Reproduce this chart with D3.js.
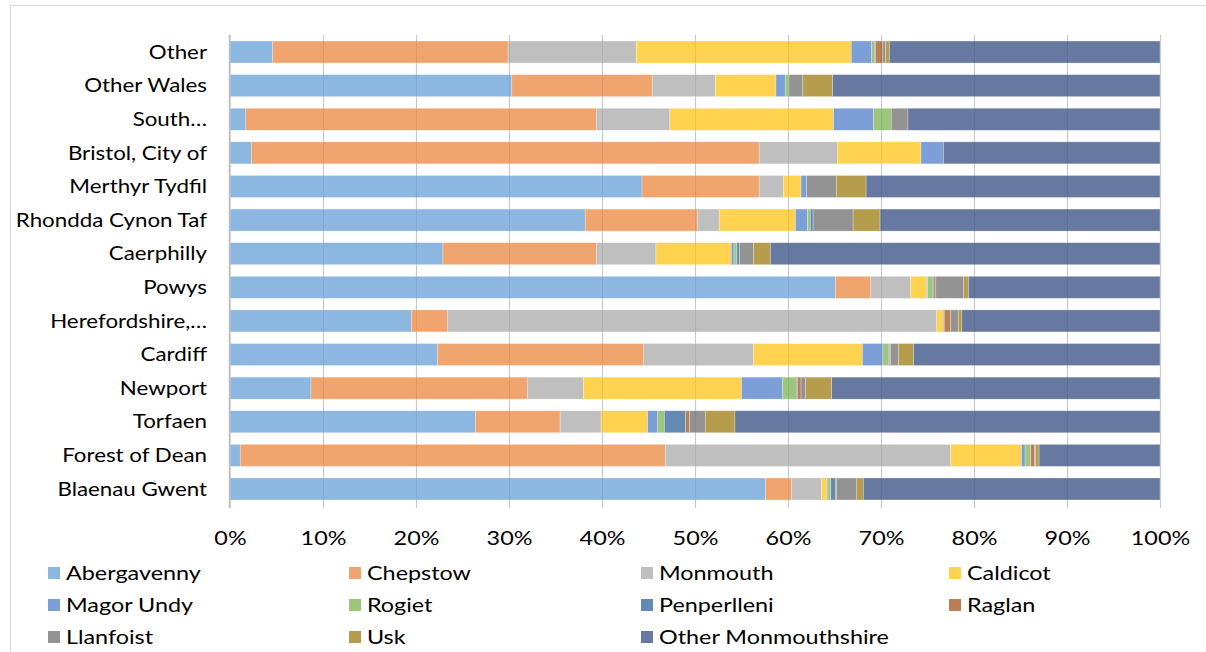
<!DOCTYPE html>
<html>
<head>
<meta charset="utf-8">
<script src="https://cdn.jsdelivr.net/npm/d3@7"></script>
<style>
  html, body { margin: 0; padding: 0; background: #fff; }
  svg { display: block; font-family: Lato, "Open Sans", sans-serif; }
</style>
</head>
<body>
<svg id="chart" width="1206" height="652"></svg>
<script>
// Workplace shares (%) by origin area, top row first
const categories = ["Other", "Other Wales", "South\u2026", "Bristol, City of", "Merthyr Tydfil",
  "Rhondda Cynon Taf", "Caerphilly", "Powys", "Herefordshire,\u2026", "Cardiff", "Newport",
  "Torfaen", "Forest of Dean", "Blaenau Gwent"];

const seriesNames = ["Abergavenny", "Chepstow", "Monmouth", "Caldicot", "Magor Undy", "Rogiet",
  "Penperlleni", "Raglan", "Llanfoist", "Usk", "Other Monmouthshire"];

const abergavenny = [4.6, 30.3, 1.7, 2.3, 44.3, 38.2, 22.9, 65.1, 19.5, 22.3, 8.7, 26.4, 1.1, 57.6];
const chepstow    = [25.3, 15.1, 37.7, 54.6, 12.6, 12.1, 16.5, 3.8, 3.9, 22.2, 23.3, 9.1, 45.7, 2.8];
const monmouth    = [13.8, 6.8, 7.9, 8.4, 2.6, 2.3, 6.4, 4.3, 52.6, 11.8, 6.0, 4.4, 30.7, 3.2];
const caldicot    = [23.1, 6.5, 17.6, 9.0, 1.9, 8.2, 8.1, 1.7, 0.7, 11.7, 17.0, 5.0, 7.6, 0.6];
const magorUndy   = [2.2, 1.0, 4.3, 2.4, 0.6, 1.3, 0.3, 0.1, 0.1, 2.2, 4.4, 1.1, 0.4, 0.1];
const rogiet      = [0.3, 0.4, 1.9, 0, 0, 0.3, 0.3, 0.6, 0, 0.6, 1.5, 0.7, 0.6, 0.3];
const penperlleni = [0.1, 0, 0, 0, 0, 0.3, 0.3, 0.1, 0, 0.1, 0.1, 2.3, 0, 0.5];
const raglan      = [0.8, 0, 0, 0, 0, 0, 0, 0.2, 0.7, 0.1, 0.4, 0.4, 0.4, 0.1];
const llanfoist   = [0.3, 1.5, 1.8, 0, 3.2, 4.3, 1.5, 3.0, 0.8, 0.9, 0.5, 1.7, 0.1, 2.2];
const usk         = [0.4, 3.2, 0, 0, 3.2, 2.9, 1.8, 0.5, 0.4, 1.6, 2.8, 3.2, 0.4, 0.7];
const otherMon    = [29.1, 35.2, 27.1, 23.3, 31.6, 30.1, 41.9, 20.6, 21.3, 26.5, 35.3, 45.7, 13.0, 31.9];

const tickLabels = ["0%", "10%", "20%", "30%", "40%", "50%", "60%", "70%", "80%", "90%", "100%"];

const colors = ["#8cb7e0", "#f0a56f", "#bfbfbf", "#ffd34f", "#7b9fd6", "#9cc57d",
  "#6489b2", "#bb7f56", "#939393", "#b69c4d", "#6779a1"];

const seriesValues = [abergavenny, chepstow, monmouth, caldicot, magorUndy, rogiet,
  penperlleni, raglan, llanfoist, usk, otherMon];

// Build row objects for d3.stack
const rows = categories.map((c, i) => {
  const r = { category: c };
  seriesNames.forEach((s, j) => { r[s] = seriesValues[j][i]; });
  return r;
});

const svg = d3.select("#chart");
const W = 1206, H = 652;
const FONT_SIZE = 19;
const STRETCH = 1.23;      // wide-set lettering for ticks and legend
const CAT_STRETCH = 1.175; // category labels

// outer chart frame
svg.append("rect")
  .attr("x", 10.5).attr("y", 5.5)
  .attr("width", W).attr("height", H)
  .attr("fill", "none").attr("stroke", "#d9d9d9").attr("stroke-width", 1);

const x = d3.scaleLinear().domain([0, 1]).range([230, 1160]);
const y = d3.scaleBand().domain(categories).range([35.3, 505.7])
  .paddingInner(0.345).paddingOuter(0.17);

const stack = d3.stack().keys(seriesNames).offset(d3.stackOffsetExpand);
const stacked = stack(rows);

// gridlines
const gridTop = 35, gridBottom = 508;
svg.append("g").selectAll("line")
  .data(d3.range(0, 1.0001, 0.1))
  .join("line")
  .attr("x1", d => Math.round(x(d)) + 0.5).attr("x2", d => Math.round(x(d)) + 0.5)
  .attr("y1", gridTop).attr("y2", gridBottom)
  .attr("stroke", "#d9d9d9").attr("stroke-width", 1.2);

// bars
svg.append("g").selectAll("g")
  .data(stacked)
  .join("g")
  .attr("fill", (d, i) => colors[i])
  .selectAll("rect")
  .data(d => d)
  .join("rect")
  .attr("x", d => x(d[0]))
  .attr("width", d => Math.max(0, x(d[1]) - x(d[0])))
  .attr("y", d => y(d.data.category))
  .attr("height", y.bandwidth())
  .attr("stroke", "#ffffff").attr("stroke-opacity", 0.45).attr("stroke-width", 0.6);

// gridlines faintly visible over the bars
svg.append("g").selectAll("line")
  .data(d3.range(0.1, 1.0001, 0.1))
  .join("line")
  .attr("x1", d => Math.round(x(d)) + 0.5).attr("x2", d => Math.round(x(d)) + 0.5)
  .attr("y1", gridTop).attr("y2", gridBottom)
  .attr("stroke", "#000").attr("stroke-opacity", 0.07).attr("stroke-width", 1.2);

// vertical category axis line
svg.append("line")
  .attr("x1", 229.5).attr("x2", 229.5).attr("y1", gridTop).attr("y2", gridBottom)
  .attr("stroke", "#bfbfbf").attr("stroke-width", 1.5);

// category labels
svg.append("g").selectAll("g")
  .data(categories)
  .join("g")
  .attr("transform", d => `translate(207,${y(d) + y.bandwidth() / 2}) scale(${CAT_STRETCH},1)`)
  .append("text")
  .attr("dy", "0.35em")
  .attr("text-anchor", "end")
  .attr("font-size", FONT_SIZE)
  .attr("fill", "#000")
  .text(d => d);

// percentage axis
const xAxis = d3.axisBottom(x)
  .tickValues(d3.range(0, 1.0001, 0.1))
  .tickFormat((d, i) => tickLabels[i])
  .tickSize(0).tickPadding(0);
const ax = svg.append("g").attr("transform", "translate(0,538)").call(xAxis);
ax.select(".domain").remove();
ax.selectAll("text")
  .attr("font-size", FONT_SIZE).attr("font-family", "Lato, 'Open Sans', sans-serif")
  .attr("fill", "#000").attr("dy", "0.35em").attr("y", 0)
  .attr("transform", `scale(${STRETCH},1)`);

// legend
const legendCols = [48, 349, 641, 949];
const legendRows = [573, 605, 637];
const legend = svg.append("g").selectAll("g")
  .data(seriesNames)
  .join("g")
  .attr("transform", (d, i) => `translate(${legendCols[i % 4]},${legendRows[Math.floor(i / 4)]})`);
legend.append("rect")
  .attr("x", 0).attr("y", -6).attr("width", 12).attr("height", 12)
  .attr("fill", (d, i) => colors[i]);
legend.append("g")
  .attr("transform", `translate(18,0) scale(${STRETCH},1)`)
  .append("text")
  .attr("dy", "0.35em")
  .attr("font-size", FONT_SIZE).attr("fill", "#000")
  .text(d => d);
</script>
</body>
</html>
